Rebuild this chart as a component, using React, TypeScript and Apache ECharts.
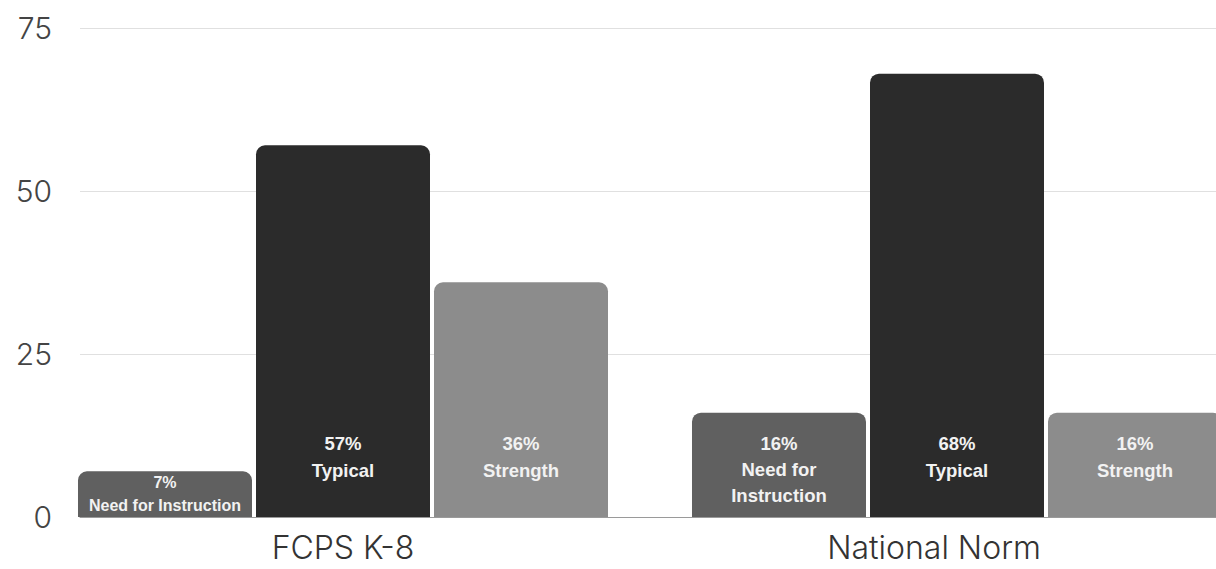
import React, { useEffect, useRef } from "react";
import * as echarts from "echarts";

const categories = ["FCPS K-8", "National Norm"];
const yTicks = [0, 25, 50, 75];
const needValues = [7, 16];
const typicalValues = [57, 68];
const strengthValues = [36, 16];
const needLabels = ["7%\nNeed for Instruction", "16%\nNeed for\nInstruction"];
const typicalLabels = ["57%\nTypical", "68%\nTypical"];
const strengthLabels = ["36%\nStrength", "16%\nStrength"];

const COLORS = { need: "#606060", typical: "#2b2b2b", strength: "#8c8c8c" };

const CHART_W = 1300;
const VIEW_W = 1216;
const VIEW_H = 569;

function labelFor(text: string, size: number, lh: number, dist: number) {
  return {
    show: true,
    position: "insideBottom",
    distance: dist,
    formatter: text,
    color: "#f2f2f2",
    fontFamily: "Liberation Sans, Arial, sans-serif",
    fontWeight: "bold",
    fontSize: size,
    lineHeight: lh,
  };
}

export default function App() {
  const ref = useRef<HTMLDivElement>(null);
  useEffect(() => {
    if (!ref.current) return;
    const chart = echarts.init(ref.current, undefined, { renderer: "svg" });
    const axisFont = "Inter, Lato, sans-serif";
    const barWidth = 174;
    const mk = (vals: number[], cfg: (i: number) => any) =>
      vals.map((v, i) => ({ value: v, label: cfg(i) }));
    chart.setOption({
      animation: false,
      backgroundColor: "#ffffff",
      grid: [
        { left: 36, right: CHART_W - 36 - 1228, top: 28, bottom: 52, containLabel: false },
        { left: 80, right: CHART_W - VIEW_W, top: 28, bottom: 52, containLabel: false },
      ],
      xAxis: [
        {
          type: "category",
          gridIndex: 0,
          data: categories,
          axisLine: { show: false },
          axisTick: { show: false },
          axisLabel: {
            margin: 14,
            formatter: (v: string) => (v === categories[0] ? `{a|${v}}` : `{b|${v}}`),
            rich: {
              a: { fontSize: 32, fontFamily: axisFont, fontWeight: 300, color: "#333", padding: [0, 0, 0, 0] },
              b: { fontSize: 32, fontFamily: axisFont, fontWeight: 300, color: "#333", padding: [0, 46, 0, 0] },
            },
          },
        },
        {
          type: "value",
          gridIndex: 1,
          min: 0,
          max: 1,
          axisLine: { show: true, lineStyle: { color: "#9a9a9a", width: 1 } },
          axisTick: { show: false },
          axisLabel: { show: false },
          splitLine: { show: false },
        },
      ],
      yAxis: [
        { type: "value", gridIndex: 0, min: 0, max: yTicks[yTicks.length - 1], interval: 25, show: false },
        {
          type: "value",
          gridIndex: 1,
          min: yTicks[0],
          max: yTicks[yTicks.length - 1],
          interval: 25,
          axisLine: { show: false },
          axisTick: { show: false },
          axisLabel: { margin: 28, fontSize: 30, fontFamily: axisFont, fontWeight: 300, color: "#444" },
          splitLine: { lineStyle: { color: "#e0e0e0", width: 1 } },
        },
      ],
      series: [
        {
          type: "bar",
          name: "Need for Instruction",
          xAxisIndex: 0,
          yAxisIndex: 0,
          barWidth,
          barGap: "2.3%",
          itemStyle: { color: COLORS.need, borderRadius: [9, 9, 0, 0] },
          data: mk(needValues, (i) =>
            i === 0 ? labelFor(needLabels[i], 16, 23, 0.5) : labelFor(needLabels[i], 18.5, 26, 9)
          ),
        },
        {
          type: "bar",
          name: "Typical",
          xAxisIndex: 0,
          yAxisIndex: 0,
          barWidth,
          barGap: "2.3%",
          itemStyle: { color: COLORS.typical, borderRadius: [9, 9, 0, 0] },
          data: mk(typicalValues, (i) => labelFor(typicalLabels[i], 18.5, 27, 33.5)),
        },
        {
          type: "bar",
          name: "Strength",
          xAxisIndex: 0,
          yAxisIndex: 0,
          barWidth,
          barGap: "2.3%",
          itemStyle: { color: COLORS.strength, borderRadius: [9, 9, 0, 0] },
          data: mk(strengthValues, (i) => labelFor(strengthLabels[i], 18.5, 27, 33.5)),
        },
      ],
    });
    return () => chart.dispose();
  }, []);
  return (
    <div
      style={{ position: "fixed", left: 0, top: 0, width: VIEW_W, height: VIEW_H, overflow: "hidden", background: "#fff" }}
    >
      <div ref={ref} style={{ width: CHART_W, height: VIEW_H }} />
    </div>
  );
}
